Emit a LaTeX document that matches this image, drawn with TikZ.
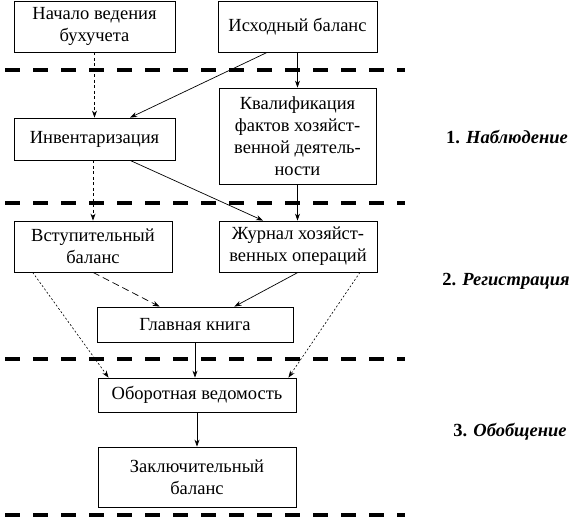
\documentclass[tikz,border=0pt]{standalone}
\usepackage{fontspec}
\setmainfont{Liberation Serif}
\usetikzlibrary{arrows.meta,calc}
\tikzset{
  box/.style={draw,line width=0.8pt,inner sep=0pt,align=center,font=\fontsize{18.5}{22}\selectfont},
  conn/.style={line width=0.7pt,-{Stealth[length=7pt,width=5pt]}},
  fdash/.style={conn,dash pattern=on 3pt off 2.5pt},
  mdash/.style={conn,dash pattern=on 7pt off 4pt},
  dotl/.style={conn,line width=0.6pt,dash pattern=on 2pt off 2pt},
  sep/.style={line width=3.5pt,dash pattern=on 15pt off 13pt},
  stage/.style={font=\fontsize{18.5}{22}\selectfont\bfseries}
}
\begin{document}
\begin{tikzpicture}[x=1pt,y=-1pt]
\useasboundingbox (0,0) rectangle (581,520);
% separators
\draw[sep] (5,70) -- (405,70);
\draw[sep] (5,203) -- (405,203);
\draw[sep] (5,359) -- (405,359);
\draw[sep] (5,515) -- (405,515);
% boxes
\node[box,minimum width=161pt,minimum height=51pt] (nach) at (94.5,26.5) {Начало ведения\\бухучета};
\node[box,minimum width=159pt,minimum height=51pt] (isx) at (297.5,26.5) {Исходный баланс};
\node[box,minimum width=157pt,minimum height=96pt] (kval) at (297.5,136) {Квалификация\\фактов хозяйст-\\венной деятель-\\ности};
\node[box,minimum width=161pt,minimum height=42pt] (inv) at (94.5,139) {Инвентаризация};
\node[box,minimum width=158pt,minimum height=51pt] (vst) at (93,246.5) {Вступительный\\баланс};
\node[box,minimum width=158pt,minimum height=51pt] (zhur) at (298,246.5) {Журнал хозяйст-\\венных операций};
\node[box,minimum width=196pt,minimum height=35pt] (glav) at (195,324.5) {Главная книга};
\node[box,minimum width=198pt,minimum height=34pt] (obor) at (197,395) {Оборотная ведомость};
\node[box,minimum width=198pt,minimum height=60pt] (zakl) at (197,477) {Заключительный\\баланс};
% stage labels
\node[stage] (s1) at (507,137) {1. \textit{Наблюдение}};
\node[stage] (s2) at (506,281) {2. \textit{Регистрация}};
\node[stage] (s3) at (510,432) {3. \textit{Обобщение}};
% connectors
\draw[fdash] (nach.south) -- (nach.south |- inv.north);
\draw[conn] ($(isx.south west)!0.31!(isx.south east)$) -- ($(inv.north west)!0.72!(inv.north east)$);
\draw[conn] (isx.south) -- (isx.south |- kval.north);
\draw[conn] ($(inv.south west)!0.72!(inv.south east)$) -- ($(zhur.north west)!0.28!(zhur.north east)$);
\draw[fdash] (inv.south -| vst.north) -- (vst.north);
\draw[conn] (kval.south) -- (kval.south |- zhur.north);
\draw[mdash] (vst.south) -- ($(glav.north west)!0.32!(glav.north east)$);
\draw[conn] (zhur.south) -- ($(glav.north west)!0.70!(glav.north east)$);
\draw[dotl] ($(vst.south west)!0.12!(vst.south east)$) -- ($(obor.north west)!0.055!(obor.north east)$);
\draw[dotl] ($(zhur.south west)!0.89!(zhur.south east)$) -- ($(obor.north west)!0.96!(obor.north east)$);
\draw[conn] (glav.south) -- (glav.south |- obor.north);
\draw[conn] (obor.south) -- (zakl.north);
\end{tikzpicture}
\end{document}
